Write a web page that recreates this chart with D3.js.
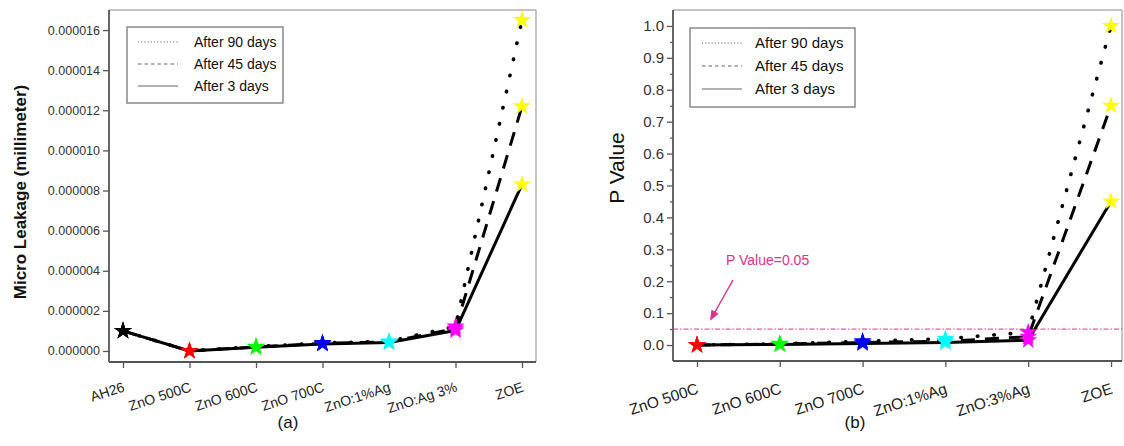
<!DOCTYPE html>
<html>
<head>
<meta charset="utf-8">
<script src="https://cdn.jsdelivr.net/npm/d3@7"></script>
<style>
  html, body { margin: 0; padding: 0; background: #fff; }
  svg { display: block; font-family: "Liberation Sans", Arial, sans-serif; }
</style>
</head>
<body>
<svg id="chart" width="1124" height="446"></svg>
<script>
// ---- Panel (a): micro leakage ----
const catsA = ["AH26", "ZnO 500C", "ZnO 600C", "ZnO 700C", "ZnO:1%Ag", "ZnO:Ag 3%", "ZOE"];
const leak3  = [1.0e-6, 0, 0.18e-6, 0.35e-6, 0.42e-6, 1.02e-6, 8.3e-6];
const leak45 = [1.0e-6, 0, 0.20e-6, 0.38e-6, 0.45e-6, 1.12e-6, 1.22e-5];
const leak90 = [1.0e-6, 0, 0.22e-6, 0.40e-6, 0.48e-6, 1.22e-6, 1.65e-5];
const ticksA = [0, 2e-6, 4e-6, 6e-6, 8e-6, 10e-6, 12e-6, 14e-6, 16e-6];
const starColorsA = ["#000000", "#ff0000", "#00ff00", "#0000ff", "#00ffff", "#ff00ff", "#ffff00"];

// ---- Panel (b): P value ----
const catsB = ["ZnO 500C", "ZnO 600C", "ZnO 700C", "ZnO:1%Ag", "ZnO:3%Ag", "ZOE"];
const p3  = [0, 0.002, 0.005, 0.008, 0.015, 0.45];
const p45 = [0, 0.003, 0.008, 0.012, 0.026, 0.75];
const p90 = [0, 0.004, 0.012, 0.020, 0.040, 1.0];
const ticksB = [0, 0.1, 0.2, 0.3, 0.4, 0.5, 0.6, 0.7, 0.8, 0.9, 1.0];
const minorB = [0.05, 0.15, 0.25, 0.35, 0.45, 0.55, 0.65, 0.75, 0.85, 0.95];
const pThreshold = 0.05;
const starColorsB = ["#ff0000", "#00ff00", "#0000ff", "#00ffff", "#ff00ff", "#ffff00"];

const seriesNames = ["After 90 days", "After 45 days", "After 3 days"];

const svg = d3.select("#chart");
svg.append("rect").attr("width", 1124).attr("height", 446).attr("fill", "#fff");

// line styles for the three time points
const dataStyle = {
  "After 90 days": { dash: "0.5,16", cap: "round", width: 3.6 },
  "After 45 days": { dash: "14,10", cap: "butt", width: 3 },
  "After 3 days":  { dash: null, cap: "round", width: 3 }
};
const legendStyle = {
  "After 90 days": "1.2,2",
  "After 45 days": "3.5,3",
  "After 3 days":  null
};

function drawPanel(opt) {
  const g = svg.append("g");
  const { x, y, box } = opt;

  // frame: light top/right, darker axes
  g.append("line").attr("x1", box.l).attr("x2", box.r).attr("y1", box.t).attr("y2", box.t)
    .attr("stroke", "#b0b0b0").attr("stroke-width", 1.5);
  g.append("line").attr("x1", box.r).attr("x2", box.r).attr("y1", box.t).attr("y2", box.b)
    .attr("stroke", "#b0b0b0").attr("stroke-width", 1.5);

  // y axis
  const yAxis = d3.axisLeft(y).tickValues(opt.yTicks).tickFormat(opt.yFormat)
    .tickSize(6).tickPadding(3);
  const ya = g.append("g").attr("transform", `translate(${box.l},0)`).call(yAxis);
  ya.select(".domain").remove();
  ya.selectAll(".tick line").attr("stroke", "#555").attr("stroke-width", 1.3);
  ya.selectAll(".tick text").attr("fill", "#333").attr("font-size", opt.yFont)
    .attr("font-family", "Liberation Sans, Arial, sans-serif");
  if (opt.yMinor) {
    g.append("g").attr("transform", `translate(${box.l},0)`)
      .call(d3.axisLeft(y).tickValues(opt.yMinor).tickFormat("").tickSize(3))
      .call(s => s.select(".domain").remove())
      .selectAll(".tick line").attr("stroke", "#555").attr("stroke-width", 1.2);
  }
  g.append("line").attr("x1", box.l).attr("x2", box.l).attr("y1", box.t).attr("y2", box.b)
    .attr("stroke", "#555").attr("stroke-width", 1.8);

  // x axis with slanted category labels
  const xa = g.append("g").attr("transform", `translate(0,${box.b})`)
    .call(d3.axisBottom(x).tickSize(6));
  xa.select(".domain").remove();
  xa.selectAll(".tick line").attr("stroke", "#555").attr("stroke-width", 1.3);
  xa.selectAll(".tick text")
    .attr("fill", "#222").attr("font-size", opt.xFont)
    .attr("font-family", "Liberation Sans, Arial, sans-serif")
    .attr("text-anchor", "end")
    .attr("x", 0).attr("y", 0).attr("dy", 0)
    .attr("transform", `translate(${opt.xShift},${opt.xDrop}) rotate(-18)`);
  g.append("line").attr("x1", box.l).attr("x2", box.r).attr("y1", box.b).attr("y2", box.b)
    .attr("stroke", "#555").attr("stroke-width", 1.8);

  if (opt.extra) opt.extra(g);

  // data lines
  const line = d3.line().x((d, i) => x(opt.cats[i])).y(d => y(d));
  opt.series.forEach(s => {
    const st = dataStyle[s.name];
    g.append("path").datum(s.values).attr("d", line)
      .attr("fill", "none").attr("stroke", "#000").attr("stroke-width", st.width)
      .attr("stroke-linejoin", "round").attr("stroke-linecap", st.cap)
      .attr("stroke-dasharray", st.dash);
  });

  // star markers
  const star = d3.symbol().type(d3.symbolStar).size(opt.starSize);
  opt.series.forEach(s => {
    g.selectAll(null).data(s.values).join("path")
      .attr("d", star)
      .attr("transform", (d, i) => `translate(${x(opt.cats[i])},${y(d)})`)
      .attr("fill", (d, i) => opt.starColors[i]);
  });

  // legend
  const L = opt.legend;
  g.append("rect").attr("x", L.x).attr("y", L.y).attr("width", L.w).attr("height", L.h)
    .attr("fill", "#fff").attr("stroke", "#777").attr("stroke-width", 1.3);
  seriesNames.forEach((name, i) => {
    const cy = L.y + L.first + i * L.step;
    g.append("line").attr("x1", L.x + L.lx1).attr("x2", L.x + L.lx2)
      .attr("y1", cy).attr("y2", cy)
      .attr("stroke", "#666").attr("stroke-width", 1.1)
      .attr("stroke-dasharray", legendStyle[name]);
    g.append("text").attr("x", L.x + L.tx).attr("y", cy).attr("dy", "0.35em")
      .attr("font-size", L.font).attr("fill", "#111").text(name);
  });

  // axis title
  g.append("text")
    .attr("transform", `translate(${opt.title.x},${opt.title.y}) rotate(-90)`)
    .attr("text-anchor", "middle").attr("dy", "0.35em")
    .attr("font-size", opt.title.size).attr("font-weight", opt.title.weight)
    .attr("fill", "#111").text(opt.title.text);

  // panel label
  g.append("text").attr("x", opt.label.x).attr("y", opt.label.y)
    .attr("text-anchor", "middle").attr("dy", "0.35em")
    .attr("font-size", 17).attr("fill", "#111").text(opt.label.text);
}

// ---- draw (a) ----
const xA = d3.scalePoint().domain(catsA).range([123, 522]);
const yA = d3.scaleLinear().domain([-5.5e-7, 1.7e-5]).range([362, 10]);
drawPanel({
  x: xA, y: yA, cats: catsA,
  box: { l: 109, r: 536, t: 10, b: 362 },
  yTicks: ticksA, yFormat: d3.format(".6f"), yFont: 12.5,
  xFont: 14, xShift: 2, xDrop: 29,
  series: [
    { name: "After 90 days", values: leak90 },
    { name: "After 45 days", values: leak45 },
    { name: "After 3 days",  values: leak3 }
  ],
  starColors: starColorsA, starSize: 100,
  legend: { x: 127, y: 27, w: 156, h: 76, first: 15, step: 22, lx1: 11, lx2: 51, tx: 67, font: 14 },
  title: { x: 20, y: 192, text: "Micro Leakage (millimeter)", size: 17, weight: "bold" },
  label: { x: 288, y: 422, text: "(a)" }
});

// ---- draw (b) ----
const xB = d3.scalePoint().domain(catsB).range([697, 1111]);
const yB = d3.scaleLinear().domain([-0.05, 1.05]).range([361, 10]);
drawPanel({
  x: xB, y: yB, cats: catsB,
  box: { l: 673, r: 1122, t: 10, b: 361 },
  yTicks: ticksB, yFormat: d3.format(".1f"), yFont: 15, yMinor: minorB,
  xFont: 15.5, xShift: 2, xDrop: 32,
  series: [
    { name: "After 90 days", values: p90 },
    { name: "After 45 days", values: p45 },
    { name: "After 3 days",  values: p3 }
  ],
  starColors: starColorsB, starSize: 100,
  legend: { x: 690, y: 28, w: 165, h: 79, first: 15, step: 23, lx1: 12, lx2: 52, tx: 65, font: 15 },
  title: { x: 617, y: 168, text: "P Value", size: 21, weight: "normal" },
  label: { x: 855, y: 422, text: "(b)" },
  extra: g => {
    const pink = "#e0308c";
    g.append("line")
      .attr("x1", 673).attr("x2", 1122)
      .attr("y1", yB(pThreshold)).attr("y2", yB(pThreshold))
      .attr("stroke", pink).attr("stroke-width", 1).attr("stroke-dasharray", "5,2,1.5,2");
    g.append("text").attr("x", 726).attr("y", 265)
      .attr("font-size", 14).attr("fill", pink).text("P Value=0.05");
    const defs = svg.append("defs");
    defs.append("marker").attr("id", "arrowHead").attr("viewBox", "0 0 10 10")
      .attr("refX", 8).attr("refY", 5).attr("markerWidth", 7).attr("markerHeight", 7)
      .attr("orient", "auto-start-reverse")
      .append("path").attr("d", "M0,1 L10,5 L0,9 Z").attr("fill", pink);
    g.append("line").attr("x1", 733).attr("y1", 280).attr("x2", 711).attr("y2", 319)
      .attr("stroke", pink).attr("stroke-width", 1.5).attr("marker-end", "url(#arrowHead)");
  }
});
</script>
</body>
</html>
